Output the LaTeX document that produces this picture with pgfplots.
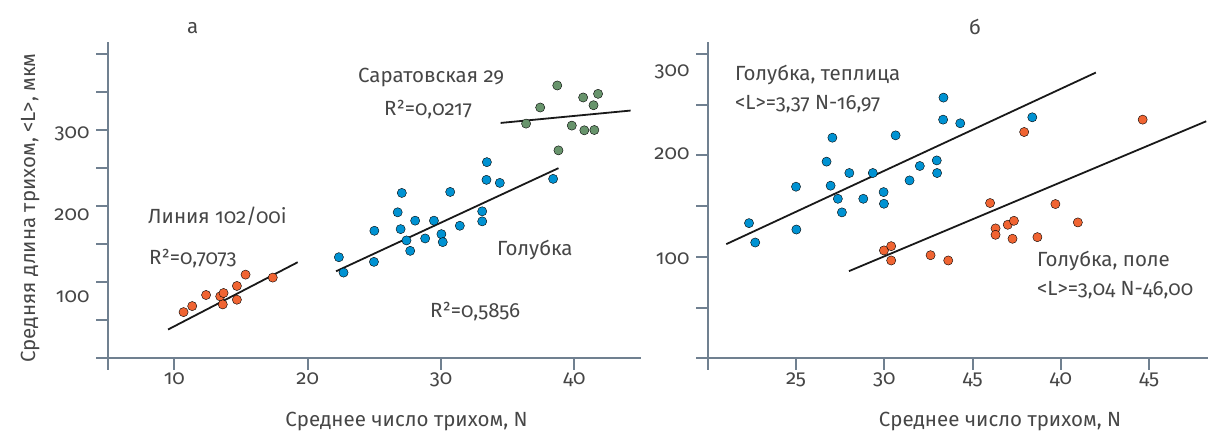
\documentclass[border=0pt]{standalone}
\usepackage{fontspec}
\setmainfont{Fira Sans}[Numbers=OldStyle]
\usepackage{pgfplots}
\pgfplotsset{compat=1.18}
\definecolor{axgray}{RGB}{112,128,144}
\definecolor{txt}{RGB}{70,70,70}
\definecolor{cblue}{RGB}{0,146,210}
\definecolor{corange}{RGB}{240,100,50}
\definecolor{cgreen}{RGB}{104,148,108}
\newcommand{\fs}{\fontsize{20.5}{24}\selectfont}
\pgfplotsset{
  myaxis/.style={
    scale only axis,
    anchor=south west,
    axis x line=bottom, axis y line=left,
    axis line style={-, axgray, line width=2pt},
    every tick/.style={axgray, line width=2pt},
    tick align=outside,
    major tick length=11.5pt,
    ymin=0,
    /pgf/number format/assume math mode=true,
    tick label style={font=\fs, text=txt},
    yticklabel style={inner sep=0pt, xshift=-6.5pt},
    xticklabel style={inner sep=0pt, yshift=-3pt},
    extra y tick style={tick style={draw=none}},
    clip=false,
  },
  dots/.style={only marks, mark=*, mark size=4.6pt, mark options={draw=none, fill=#1}},
  fit/.style={black!90, line width=1.8pt},
}
\begin{document}
\begin{tikzpicture}
\useasboundingbox (0,0) rectangle (1216pt,432pt);
% ---------- panel a ----------
\begin{axis}[myaxis, at={(107.7pt,73.7pt)}, width=533.3pt, height=316.6pt,
  xmin=5, xmax=45, ymax=416.6,
  xtick={5,10,20,30,40}, xticklabels={,10,20,30,40},
  ytick={0,50,...,400}, yticklabels={,,,,,,,,},
  extra y ticks={81,188.6,296}, extra y tick labels={100,200,300}]
\addplot[dots=corange] coordinates {
(10.69,60.8) (11.34,68.7) (12.38,83.3) (13.44,81.5) (13.69,85.9)
(13.63,70.9) (14.69,95.2) (14.69,77.1) (15.34,110.1) (17.38,106.2)};
\addplot[fit] coordinates {(9.53,37.9) (19.25,126.4)};
\addplot[dots=cblue] coordinates {
(22.34,133) (22.69,112.8) (25.0,167.8) (24.97,126.9) (27.06,217.6)
(26.75,192.1) (26.97,170) (28.06,181.1) (27.41,155.1) (27.69,141.4)
(28.81,157.7) (29.47,181.1) (30.03,163.4) (30.13,152.9) (30.69,218.9)
(31.41,174.4) (33.09,193.4) (33.09,180.2) (33.44,258.1) (33.41,234.8)
(34.41,230.8) (38.41,236.1)};
\addplot[fit] coordinates {(22.13,114.5) (38.81,250.2)};
\addplot[dots=cgreen] coordinates {
(36.38,308.8) (37.44,330) (38.72,359) (38.81,273.6) (39.81,306.2)
(40.66,343.2) (40.75,300) (41.44,333) (41.5,300.4) (41.78,348)};
\addplot[fit] coordinates {(34.47,309.7) (44.22,326)};
\end{axis}
% ---------- panel b ----------
\begin{axis}[myaxis, at={(707.7pt,73.7pt)}, width=500.3pt, height=316.6pt,
  xmin=20, xmax=48.33, ymax=312,
  xtick={20,25,30,35,40,45}, xticklabels={,25,30,45,40,45},
  ytick={0,50,...,300}, yticklabels={,,,,,,,},
  extra y ticks={98.5,202,282}, extra y tick labels={100,200,300}]
\addplot[dots=cblue] coordinates {
(22.34,133.2) (22.69,114.1) (25.0,169.1) (25.02,126.9) (26.73,193.8)
(26.96,170.1) (27.06,217.4) (27.37,157.2) (27.6,143.8) (28.02,182.6)
(28.81,157.2) (29.35,182.6) (29.96,163.8) (29.98,152.3) (30.64,219.7)
(31.43,175.3) (32.01,189.5) (32.97,195) (32.99,182.6) (33.35,256.9)
(33.33,235.2) (34.3,231.6) (38.38,237.5)};
\addplot[fit] coordinates {(21.05,112.5) (41.98,281.6)};
\addplot[dots=corange] coordinates {
(29.98,106.3) (30.39,110.5) (30.39,96.4) (32.62,101.6) (33.62,96.4)
(35.99,153) (36.3,128) (36.3,121.7) (36.99,131.6) (37.34,135.5)
(37.26,117.8) (37.92,223) (38.67,119.4) (39.69,152) (40.96,133.9)
(44.63,235.2)};
\addplot[fit] coordinates {(28.0,85.9) (48.23,233.6)};
\end{axis}
% ---------- texts ----------
\begin{scope}[every node/.style={font=\fs, text=txt, inner sep=0pt}]
\node at (192.6pt,404pt) {а};
\node at (975pt,405pt) {б};
\node at (406.5pt,11pt) {Среднее число трихом, N};
\node at (1000pt,11pt) {Среднее число трихом, N};
\node[rotate=90] at (30pt,224pt) {Средняя длина трихом, <L>, мкм};
\node[anchor=west] at (358pt,354.7pt) {Саратовская 29};
\node[anchor=west] at (384pt,322pt) {R²=0,0217};
\node[anchor=west] at (148pt,215.3pt) {Линия 102/00i};
\node[anchor=west] at (149pt,173.3pt) {R²=0,7073};
\node[anchor=west] at (497pt,182pt) {Голубка};
\node[anchor=west] at (430pt,120.3pt) {R²=0,5856};
\node[anchor=west] at (735pt,357pt) {Голубка, теплица};
\node[anchor=west] at (735pt,327.7pt) {<L>=3,37 N-16,97};
\node[anchor=west] at (1037pt,171pt) {Голубка, поле};
\node[anchor=west] at (1037pt,142pt) {<L>=3,04 N-46,00};
\end{scope}
\end{tikzpicture}
\end{document}
